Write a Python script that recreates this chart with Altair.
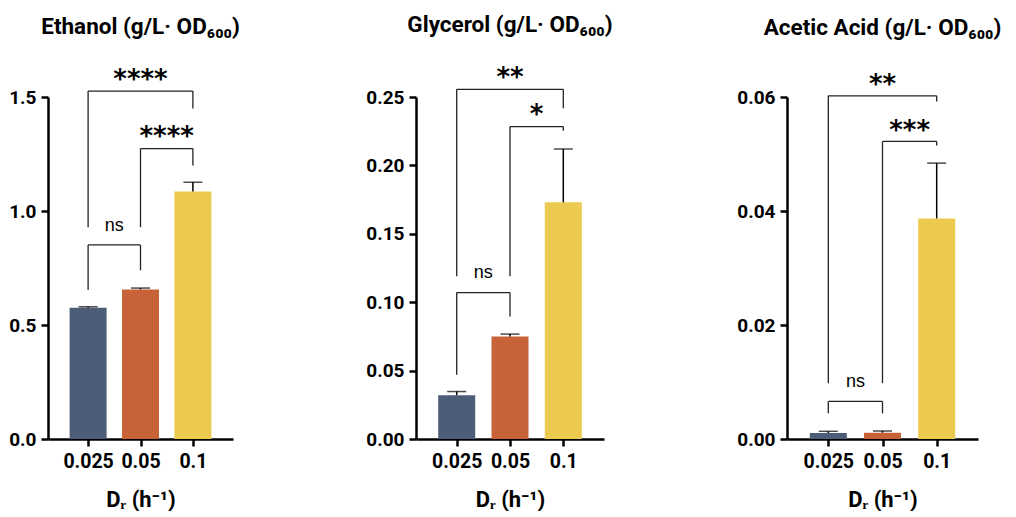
import json
import altair as alt
import pandas as pd

CATEGORIES = ["0.025", "0.05", "0.1"]
BAR_COLORS = ["#4D5D78", "#C86238", "#ECCA50"]

ETHANOL_MEAN = [0.576, 0.656, 1.085]
ETHANOL_SD = [0.004, 0.006, 0.041]
GLYCEROL_MEAN = [0.032, 0.075, 0.173]
GLYCEROL_SD = [0.0027, 0.0017, 0.039]
ACETIC_MEAN = [0.00105, 0.0011, 0.0387]
ACETIC_SD = [0.0003, 0.0003, 0.0097]

ETHANOL_TICKS = [0, 0.5, 1.0, 1.5]
GLYCEROL_TICKS = [0, 0.05, 0.10, 0.15, 0.20, 0.25]
ACETIC_TICKS = [0, 0.02, 0.04, 0.06]

# (left group, right group, left leg bottom, right leg bottom, bracket top, label, label centre)
ETHANOL_BRACKETS = [
    ("0.025", "0.05", 0.654, 0.740, 0.851, "ns", 0.934),
    ("0.05", "0.1", 0.929, 1.200, 1.274, "****", 1.356),
    ("0.025", "0.1", 0.929, 1.450, 1.526, "****", 1.604),
]
GLYCEROL_BRACKETS = [
    ("0.025", "0.05", 0.047, 0.0896, 0.107, "ns", 0.121),
    ("0.05", "0.1", 0.119, 0.2253, 0.2284, "*", 0.242),
    ("0.025", "0.1", 0.119, 0.2418, 0.2556, "**", 0.269),
]
ACETIC_BRACKETS = [
    ("0.025", "0.05", 0.0045, 0.0045, 0.0066, "ns", 0.00996),
    ("0.05", "0.1", 0.0098, 0.0515, 0.0522, "***", 0.0553),
    ("0.025", "0.1", 0.0098, 0.0592, 0.0602, "**", 0.0633),
]

X_TITLE = "D\u1d63 (h\u207b\u00b9)"
LABEL_EXPR = json.dumps(CATEGORIES) + "[datum.value]"


def panel(title, means, sds, brackets, ticks, fmt, width, height, title_offset):
    bars = pd.DataFrame({
        "pos": list(range(len(CATEGORIES))),
        "group": CATEGORIES,
        "mean": means,
        "upper": [m + s for m, s in zip(means, sds)],
    })
    rules, labels = [], []
    for a, b, low_a, low_b, top, lab, ly in brackets:
        i, j = CATEGORIES.index(a), CATEGORIES.index(b)
        rules.append({"pos": i, "pos2": i, "val": low_a, "val2": top})
        rules.append({"pos": i, "pos2": j, "val": top, "val2": top})
        rules.append({"pos": j, "pos2": j, "val": low_b, "val2": top})
        labels.append({"pos": (i + j) / 2, "val": ly, "label": lab})
    rules = pd.DataFrame(rules)
    labels = pd.DataFrame(labels)

    xs = alt.Scale(domain=[-0.67, len(CATEGORIES) - 0.33], nice=False, zero=False)
    ys = alt.Scale(domain=[0, ticks[-1]], nice=False)

    x_axis = alt.Axis(values=list(range(len(CATEGORIES))), labelExpr=LABEL_EXPR,
                      title=X_TITLE, labelFontSize=19.5, labelPadding=6,
                      titleFontSize=22, titlePadding=19)
    y_axis = alt.Axis(values=ticks, format=fmt, title=None, labelFontSize=19,
                      labelPadding=5)

    def X(field):
        return alt.X(field, scale=xs, axis=x_axis, title=X_TITLE)

    def Y(field):
        return alt.Y(field, scale=ys, axis=y_axis, title=None)

    bar = alt.Chart(bars).mark_bar(size=37).encode(
        x=X("pos:Q"),
        y=Y("mean:Q"),
        color=alt.Color("group:N", scale=alt.Scale(domain=CATEGORIES, range=BAR_COLORS),
                        legend=None),
    )
    err = alt.Chart(bars).mark_rule(color="black", strokeWidth=1.5).encode(
        x=X("pos:Q"), y=Y("mean:Q"), y2="upper:Q",
    )
    cap = alt.Chart(bars).mark_tick(color="black", thickness=1.5, size=19,
                                    orient="horizontal").encode(
        x=X("pos:Q"), y=Y("upper:Q"),
    )
    brk = alt.Chart(rules).mark_rule(color="#222222", strokeWidth=1.3).encode(
        x=X("pos:Q"), x2="pos2:Q", y=Y("val:Q"), y2="val2:Q",
    )
    ns = alt.Chart(labels).transform_filter("datum.label == 'ns'").mark_text(
        font="Liberation Sans", fontSize=18, color="black", baseline="middle"
    ).encode(x=X("pos:Q"), y=Y("val:Q"), text="label:N")
    stars = alt.Chart(labels).transform_filter("datum.label != 'ns'").mark_text(
        font="DejaVu Sans", fontWeight="bold", fontSize=26, color="black",
        baseline="middle", dy=7
    ).encode(x=X("pos:Q"), y=Y("val:Q"), text="label:N")
    return alt.layer(bar, err, cap, brk, ns, stars).properties(
        width=width, height=height,
        title=alt.TitleParams(title, font="Roboto", fontSize=22.5, fontWeight="bold",
                              color="black", anchor="middle", offset=title_offset),
    )


p1 = panel("Ethanol (g/L\u00b7 OD\u2086\u2080\u2080)", ETHANOL_MEAN, ETHANOL_SD,
           ETHANOL_BRACKETS, ETHANOL_TICKS, ".1f", 185, 342, 29)
p2 = panel("Glycerol (g/L\u00b7 OD\u2086\u2080\u2080)", GLYCEROL_MEAN, GLYCEROL_SD,
           GLYCEROL_BRACKETS, GLYCEROL_TICKS, ".2f", 188, 342, 29)
p3 = panel("Acetic Acid (g/L\u00b7 OD\u2086\u2080\u2080)", ACETIC_MEAN, ACETIC_SD,
           ACETIC_BRACKETS, ACETIC_TICKS, ".2f", 191, 342, 33)

chart = alt.hconcat(p1, p2, p3, spacing=183, bounds="flush").properties(
    padding={"left": 0, "top": 5, "right": 0, "bottom": 0}
).configure_view(stroke=None).configure_axis(
    grid=False, domainColor="black", domainWidth=2.5, tickColor="black",
    tickWidth=2.5, tickSize=7, labelFont="Roboto", labelFontWeight="bold",
    labelColor="black", titleFont="Roboto", titleFontWeight="bold",
    titleColor="black",
)

chart.save("out.html", embed_options={"renderer": "svg", "actions": False})
